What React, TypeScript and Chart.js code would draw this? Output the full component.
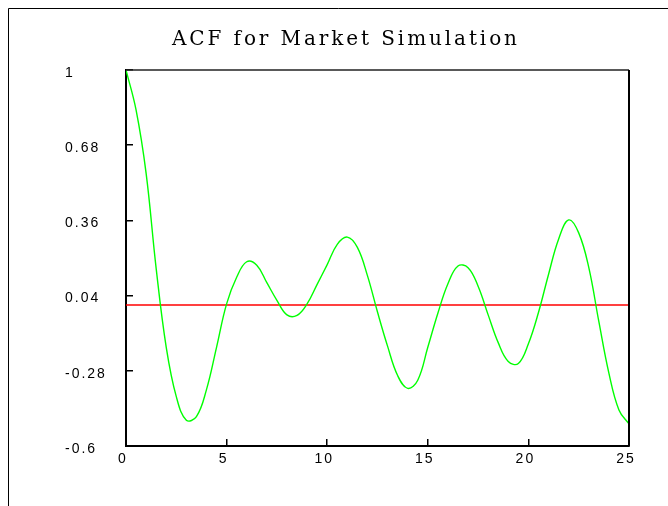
import React, { useEffect, useRef } from 'react';
import { Chart, registerables } from 'chart.js';

Chart.register(...registerables);

const chartTitle = 'ACF for Market Simulation';

const lags = [
  0, 0.5, 1, 1.5, 2, 2.5, 3, 3.5, 4, 4.5, 5, 5.5, 6, 6.5, 7, 7.5, 8, 8.5, 9, 9.5, 10,
  10.5, 11, 11.5, 12, 12.5, 13, 13.5, 14, 14.5, 15, 15.5, 16, 16.5, 17, 17.5, 18, 18.5,
  19, 19.5, 20, 20.5, 21, 21.5, 22, 22.5, 23, 23.5, 24, 24.5, 25,
];
const acfValues = [
  1, 0.83, 0.56, 0.155, -0.18, -0.39, -0.49, -0.475, -0.36, -0.18, 0.005, 0.118, 0.184,
  0.169, 0.095, 0.02, -0.042, -0.044, 0.005, 0.088, 0.172, 0.258, 0.289, 0.245, 0.125,
  -0.03, -0.175, -0.3, -0.355, -0.32, -0.18, -0.035, 0.09, 0.166, 0.159, 0.08, -0.042,
  -0.16, -0.24, -0.249, -0.165, -0.032, 0.13, 0.28, 0.362, 0.307, 0.16, -0.07, -0.29,
  -0.447, -0.506,
];

const baselineLags = [0, 25];
const baselineValues = [0, 0];

const xTickValues = [0, 5, 10, 15, 20, 25];
const yTickValues = [-0.6, -0.28, 0.04, 0.36, 0.68, 1];
const yTickLabels = ['-0.6', '-0.28', '0.04', '0.36', '0.68', '1'];

const W = 668;
const H = 506;

const decorPlugin = {
  id: 'decor',
  beforeDraw(chart: any) {
    const ctx = chart.ctx as any;
    ctx.save();
    ctx.fillStyle = '#ffffff';
    ctx.fillRect(0, 0, W, H);
    ctx.strokeStyle = '#000000';
    ctx.lineWidth = 1;
    ctx.beginPath();
    ctx.moveTo(8.5, H);
    ctx.lineTo(8.5, 8.5);
    ctx.lineTo(W, 8.5);
    ctx.stroke();

    ctx.font = '20px "DejaVu Serif", "Liberation Serif", serif';
    ctx.letterSpacing = '0px';
    const w = ctx.measureText(chartTitle).width;
    const targetWidth = 345;
    const sp = Math.max(0, (targetWidth - w) / (chartTitle.length - 1));
    ctx.letterSpacing = sp + 'px';
    ctx.textAlign = 'left';
    ctx.textBaseline = 'alphabetic';
    ctx.fillStyle = '#000000';
    ctx.fillText(chartTitle, 172, 45);
    ctx.restore();
    ctx.letterSpacing = '2px';
  },
  afterDraw(chart: any) {
    const ctx = chart.ctx as any;
    const a = chart.chartArea;
    ctx.save();
    ctx.strokeStyle = '#222222';
    ctx.lineWidth = 1.5;
    ctx.beginPath();
    ctx.moveTo(a.left, a.top);
    ctx.lineTo(a.right, a.top);
    ctx.stroke();
    ctx.strokeStyle = '#000000';
    ctx.lineWidth = 2;
    ctx.beginPath();
    ctx.moveTo(a.right, a.top);
    ctx.lineTo(a.right, a.bottom);
    ctx.stroke();
    ctx.restore();
    ctx.letterSpacing = '0px';
  },
};

export default function App() {
  const ref = useRef<HTMLCanvasElement | null>(null);

  useEffect(() => {
    if (!ref.current) return;
    const chart = new Chart(ref.current, {
      type: 'line',
      data: {
        datasets: [
          {
            label: 'ACF',
            data: lags.map((x, i) => ({ x, y: acfValues[i] })),
            borderColor: '#00ff00',
            borderWidth: 1.4,
            pointRadius: 0,
            fill: false,
            tension: 0.4,
          },
          {
            label: 'zero',
            data: baselineLags.map((x, i) => ({ x, y: baselineValues[i] })),
            borderColor: '#ff0000',
            borderWidth: 1.5,
            pointRadius: 0,
            fill: false,
          },
        ],
      },
      plugins: [decorPlugin],
      options: {
        animation: false,
        responsive: false,
        maintainAspectRatio: false,
        layout: { padding: { left: 65, top: 70, right: 39, bottom: 0 } },
        plugins: {
          legend: { display: false },
          title: { display: false },
          tooltip: { enabled: false },
        },
        scales: {
          x: {
            type: 'linear',
            min: 0,
            max: 25,
            afterBuildTicks: (scale: any) => {
              scale.ticks = xTickValues.map((v) => ({ value: v }));
            },
            afterFit: (scale: any) => {
              scale.height = 60;
            },
            ticks: {
              color: '#000000',
              font: { family: '"Liberation Sans"', size: 14 },
              padding: 12,
              labelOffset: -3,
              maxRotation: 0,
              autoSkip: false,
              callback: (v: any) => String(v),
            },
            grid: {
              drawOnChartArea: false,
              drawTicks: true,
              tickLength: -7,
              color: '#000000',
              lineWidth: 1.5,
            },
            border: { display: true, color: '#000000', width: 2 },
          },
          y: {
            type: 'linear',
            min: -0.6,
            max: 1,
            afterBuildTicks: (scale: any) => {
              scale.ticks = yTickValues.map((v) => ({ value: v }));
            },
            afterFit: (scale: any) => {
              scale.width = 61;
            },
            ticks: {
              color: '#000000',
              font: { family: '"Liberation Sans"', size: 14 },
              crossAlign: 'far',
              labelOffset: 3,
              autoSkip: false,
              callback: (_v: any, i: number) => yTickLabels[i],
            },
            grid: {
              drawOnChartArea: false,
              drawTicks: true,
              tickLength: -7,
              color: '#000000',
              lineWidth: 1.5,
            },
            border: { display: true, color: '#000000', width: 2 },
          },
        },
      },
    } as any);
    return () => chart.destroy();
  }, []);

  return (
    <div style={{ position: 'fixed', left: 0, top: 0, width: W, height: H, background: '#fff' }}>
      <canvas ref={ref} width={W} height={H} style={{ width: W, height: H, display: 'block' }} />
    </div>
  );
}
